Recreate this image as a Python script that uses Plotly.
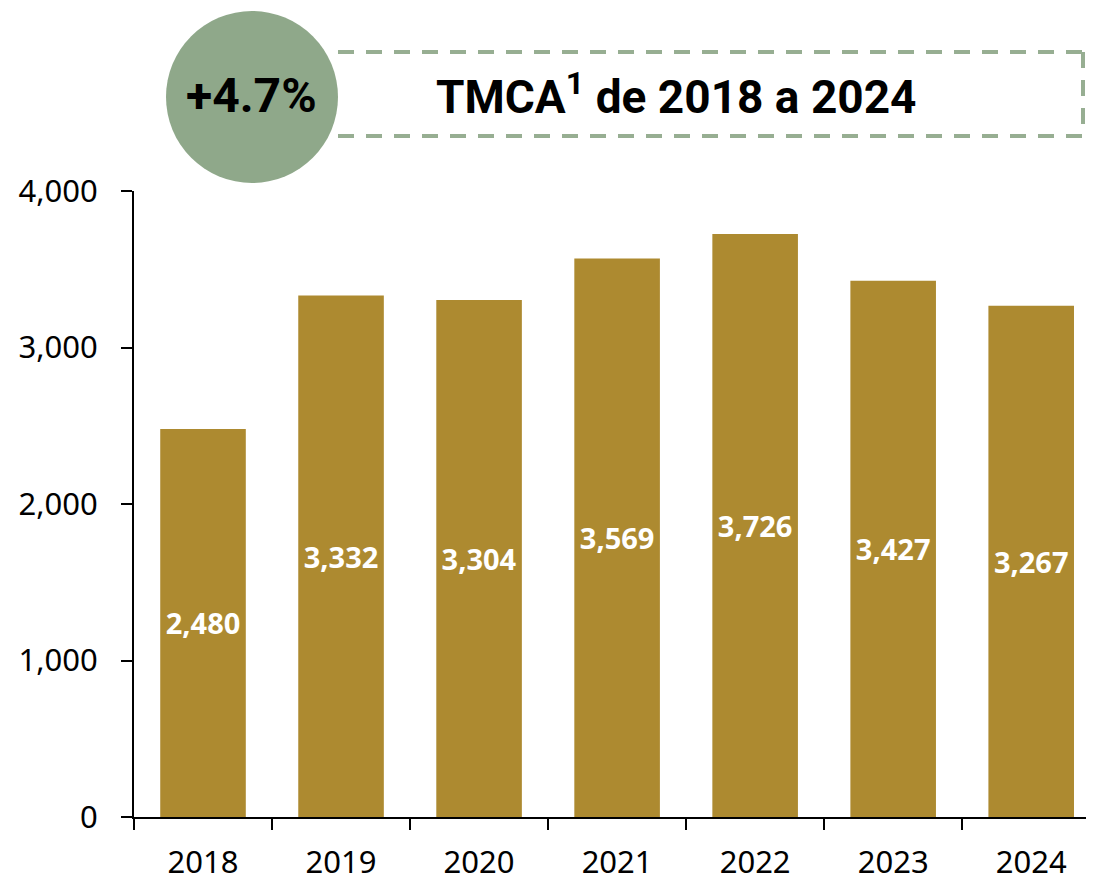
import plotly.graph_objects as go

years = ["2018", "2019", "2020", "2021", "2022", "2023", "2024"]
values = [2480, 3332, 3304, 3569, 3726, 3427, 3267]
value_labels = ["2,480", "3,332", "3,304", "3,569", "3,726", "3,427", "3,267"]
y_ticks = [0, 1000, 2000, 3000, 4000]
y_tick_labels = ["0", "1,000", "2,000", "3,000", "4,000"]
badge_text = "+4.7%"
title_text = "TMCA<sup>1</sup> de 2018 a 2024"

# page body has an 8px margin; work in reference-window pixels and shift
OFF = 8
W, H = 1094 - OFF, 882 - OFF
L, R = 134 - OFF, 0
T = 191 - OFF
B = H - (817 - OFF)
pw, ph = W - L - R, H - T - B

def px(x):
    return (x - OFF - L) / pw

def py(y):
    return (H - B - (y - OFF)) / ph

BAR = "#AD8A30"
GREEN = "#8FA88A"
DASH = "#97AE92"
COND = "Roboto, Liberation Sans, sans-serif"
TICKFONT = dict(family="Noto Sans, Open Sans, sans-serif", size=31, color="black")

fig = go.Figure(go.Bar(
    x=years, y=values, text=value_labels, width=0.62,
    marker=dict(color=BAR, line=dict(width=0)),
    textposition="inside", insidetextanchor="middle", textangle=0,
    textfont=dict(family="Open Sans, Arial, sans-serif", size=29, color="white", weight="bold"),
    cliponaxis=False,
))

fig.update_layout(
    width=W, height=H,
    margin=dict(l=L, r=R, t=T, b=B),
    paper_bgcolor="white", plot_bgcolor="white",
    showlegend=False,
    uniformtext=dict(mode=False),
    xaxis=dict(
        type="category", range=[-0.5, 6.455],
        showline=True, linecolor="black", linewidth=2,
        ticks="outside", tickson="boundaries", ticklen=11, tickwidth=2, tickcolor="black",
        tickfont=TICKFONT, showgrid=False, zeroline=False, ticklabelstandoff=17,
    ),
    yaxis=dict(
        range=[0, 4000], tickvals=y_ticks, ticktext=y_tick_labels,
        showline=True, linecolor="black", linewidth=2,
        ticks="outside", ticklen=11, tickwidth=2, tickcolor="black",
        tickfont=TICKFONT, showgrid=False, zeroline=False, ticklabelstandoff=17,
    ),
)

dash_line = dict(color=DASH, width=4, dash="16px,12px")
shapes = [
    dict(type="line", xref="paper", yref="paper", x0=px(338), x1=px(1083), y0=py(52), y1=py(52), line=dash_line),
    dict(type="line", xref="paper", yref="paper", x0=px(1083), x1=px(1083), y0=py(52), y1=py(136), line=dash_line),
    dict(type="line", xref="paper", yref="paper", x0=px(338), x1=px(1083), y0=py(136), y1=py(136), line=dash_line),
    dict(type="circle", xref="paper", yref="paper", x0=px(166), x1=px(338), y0=py(183), y1=py(11),
         fillcolor=GREEN, line=dict(width=0), layer="above"),
]
fig.update_layout(shapes=shapes)

fig.add_annotation(x=px(251), y=py(96), xref="paper", yref="paper", text=badge_text, showarrow=False,
                   xanchor="center", yanchor="middle",
                   font=dict(family=COND, size=48, color="black", weight="bold"))
fig.add_annotation(x=px(676), y=py(94), xref="paper", yref="paper", text=title_text, showarrow=False,
                   xanchor="center", yanchor="middle",
                   font=dict(family=COND, size=46, color="black", weight="bold"))

fig.write_html("out.html")
